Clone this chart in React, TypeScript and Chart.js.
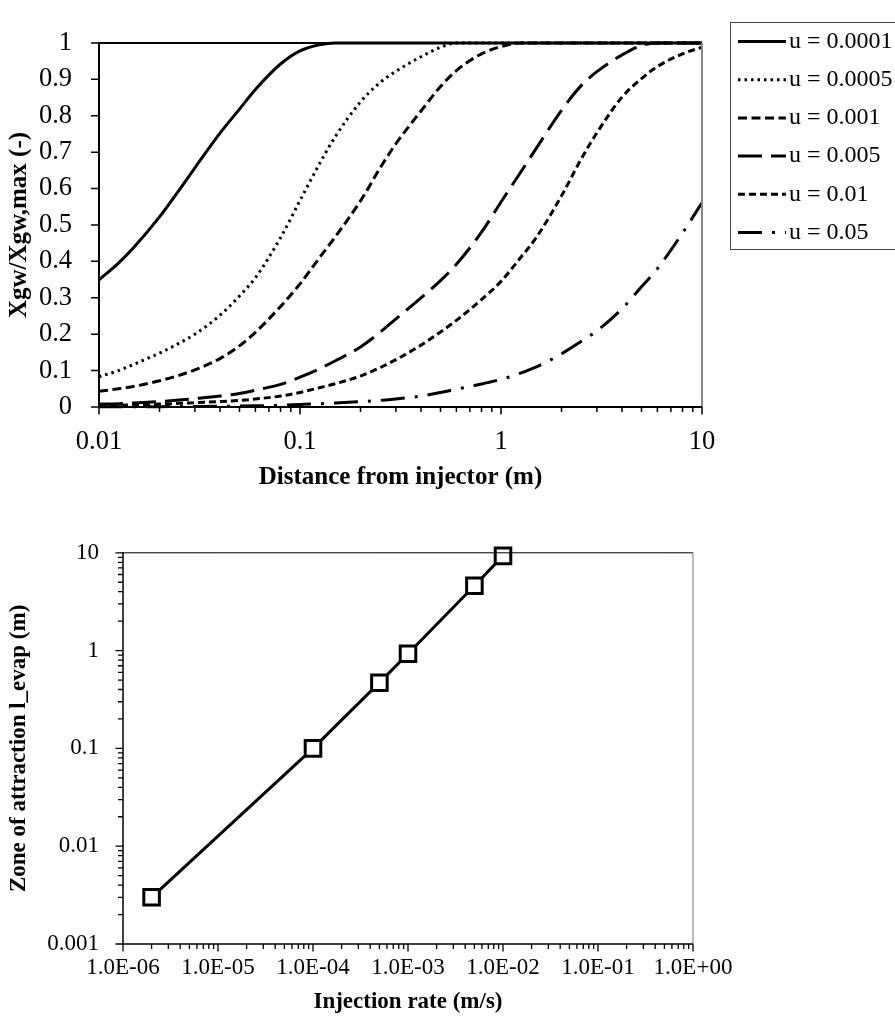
import React, { useEffect, useRef } from "react";
import { Chart, registerables } from "chart.js";

Chart.register(...registerables);

const FONT = "'Liberation Serif', 'Times New Roman', Times, serif";

// ---------- Top chart: Xgw/Xgw,max vs distance ----------
const distance = [
  0.01, 0.0125, 0.015, 0.02, 0.025, 0.03, 0.04, 0.05, 0.06, 0.08,
  0.1, 0.125, 0.15, 0.2, 0.25, 0.3, 0.4, 0.5, 0.6, 0.8,
  1, 1.25, 1.5, 2, 2.5, 3, 4, 5, 6, 8, 10,
];
const xgwU0001 = [
  0.349, 0.395, 0.44, 0.522, 0.595, 0.657, 0.752, 0.818, 0.872, 0.942,
  0.978, 0.995, 1, 1, 1, 1, 1, 1, 1, 1,
  1, 1, 1, 1, 1, 1, 1, 1, 1, 1, 1,
];
const xgwU0005 = [
  0.083, 0.1, 0.118, 0.148, 0.175, 0.2, 0.252, 0.305, 0.355, 0.465,
  0.567, 0.668, 0.743, 0.838, 0.891, 0.922, 0.962, 0.988, 1, 1,
  1, 1, 1, 1, 1, 1, 1, 1, 1, 1, 1,
];
const xgwU001 = [
  0.043, 0.05, 0.057, 0.072, 0.087, 0.102, 0.133, 0.168, 0.205, 0.276,
  0.338, 0.41, 0.468, 0.566, 0.656, 0.723, 0.813, 0.88, 0.924, 0.97,
  0.99, 1, 1, 1, 1, 1, 1, 1, 1, 1, 1,
];
const xgwU005 = [
  0.008, 0.009, 0.011, 0.015, 0.019, 0.023, 0.03, 0.037, 0.046, 0.062,
  0.082, 0.105, 0.127, 0.165, 0.205, 0.242, 0.3, 0.347, 0.392, 0.48,
  0.563, 0.644, 0.711, 0.815, 0.882, 0.921, 0.967, 0.993, 1, 1, 1,
];
const xgwU01 = [
  0.004, 0.005, 0.006, 0.008, 0.01, 0.012, 0.015, 0.018, 0.022, 0.03,
  0.04, 0.053, 0.064, 0.085, 0.108, 0.13, 0.17, 0.206, 0.238, 0.295,
  0.345, 0.41, 0.466, 0.58, 0.68, 0.753, 0.851, 0.902, 0.935, 0.97, 0.988,
];
const xgwU05 = [
  0.0005, 0.0006, 0.0007, 0.001, 0.0012, 0.0015, 0.002, 0.0026, 0.0032, 0.0045,
  0.007, 0.009, 0.011, 0.0145, 0.018, 0.022, 0.03, 0.04, 0.049, 0.063,
  0.076, 0.093, 0.11, 0.146, 0.18, 0.209, 0.27, 0.33, 0.38, 0.478, 0.561,
];
const seriesLabels = ["u = 0.0001", "u = 0.0005", "u = 0.001", "u = 0.005", "u = 0.01", "u = 0.05"];
const seriesValues = [xgwU0001, xgwU0005, xgwU001, xgwU005, xgwU01, xgwU05];
const seriesDashes = [[], [2.5, 4], [9, 4.5], [24, 9], [7, 4], [24, 10, 3, 10]];

const topXMajor = [0.01, 0.1, 1, 10];
const topXLabels = ["0.01", "0.1", "1", "10"];
const topYLabels = ["0", "0.1", "0.2", "0.3", "0.4", "0.5", "0.6", "0.7", "0.8", "0.9", "1"];

// ---------- Bottom chart: zone of attraction vs injection rate ----------
const injectionRate = [2e-6, 1e-4, 5e-4, 1e-3, 5e-3, 1e-2];
const zoneLength = [0.003, 0.1, 0.47, 0.93, 4.6, 9.3];
const botXMajor = [1e-6, 1e-5, 1e-4, 1e-3, 1e-2, 1e-1, 1];
const botXLabels = ["1.0E-06", "1.0E-05", "1.0E-04", "1.0E-03", "1.0E-02", "1.0E-01", "1.0E+00"];
const botYMajor = [0.001, 0.01, 0.1, 1, 10];
const botYLabels = ["0.001", "0.01", "0.1", "1", "10"];
const minorSteps = [2, 3, 4, 5, 6, 7, 8, 9];

function logTicks(majors: number[]) {
  const out: { value: number; major: boolean }[] = [];
  majors.forEach((m, i) => {
    out.push({ value: m, major: true });
    if (i < majors.length - 1) minorSteps.forEach((k) => out.push({ value: m * k, major: false }));
  });
  return out;
}

function labelFor(majors: number[], labels: string[]) {
  return (v: any) => {
    const val = Number(v);
    const i = majors.findIndex((m) => Math.abs(Math.log10(val) - Math.log10(m)) < 1e-6);
    return i >= 0 ? labels[i] : "";
  };
}

function framePlugin(o: any) {
  return {
    id: "frameTicks",
    afterDraw(chart: any) {
      const { ctx, chartArea: a } = chart;
      const xs = chart.scales.x;
      const ys = chart.scales.y;
      ctx.save();
      ctx.setLineDash([]);
      ctx.strokeStyle = "#000";
      ctx.lineWidth = o.tickWidth;
      ctx.beginPath();
      xs.ticks.forEach((t: any) => {
        const p = xs.getPixelForValue(t.value);
        const len = t.major === false ? o.xMinor : o.xMajor;
        ctx.moveTo(p, a.bottom);
        ctx.lineTo(p, a.bottom + len);
      });
      ys.ticks.forEach((t: any) => {
        const p = ys.getPixelForValue(t.value);
        const len = t.major === false ? o.yMinor : o.yMajor;
        ctx.moveTo(a.left, p);
        ctx.lineTo(a.left - len, p);
      });
      ctx.stroke();
      ctx.strokeStyle = o.topColor;
      ctx.lineWidth = o.topWidth;
      ctx.beginPath();
      ctx.moveTo(a.left, a.top);
      ctx.lineTo(a.right, a.top);
      ctx.stroke();
      ctx.strokeStyle = o.rightColor;
      ctx.lineWidth = o.rightWidth;
      ctx.beginPath();
      ctx.moveTo(a.right, a.top);
      ctx.lineTo(a.right, a.bottom);
      ctx.stroke();
      ctx.strokeStyle = "#000";
      ctx.lineWidth = o.axisWidth;
      ctx.beginPath();
      ctx.moveTo(a.left, a.top - o.topWidth / 2);
      ctx.lineTo(a.left, a.bottom);
      ctx.lineTo(a.right, a.bottom);
      ctx.stroke();
      ctx.restore();
    },
  };
}

const legendPlugin = {
  id: "boxLegend",
  afterDraw(chart: any) {
    const { ctx } = chart;
    ctx.save();
    ctx.strokeStyle = "#444";
    ctx.lineWidth = 1;
    ctx.strokeRect(730.5, 22.5, 200, 227);
    ctx.font = `24px ${FONT}`;
    ctx.textBaseline = "middle";
    ctx.textAlign = "left";
    chart.data.datasets.forEach((ds: any, i: number) => {
      const y = 41.5 + i * 38.2;
      ctx.strokeStyle = "#000";
      ctx.lineWidth = 3;
      ctx.lineCap = "butt";
      ctx.setLineDash(ds.borderDash || []);
      ctx.beginPath();
      ctx.moveTo(738, y);
      ctx.lineTo(786, y);
      ctx.stroke();
      ctx.setLineDash([]);
      ctx.fillStyle = "#000";
      ctx.fillText(ds.label, 789, y);
    });
    ctx.restore();
  },
};

export default function App() {
  const topRef = useRef<HTMLCanvasElement | null>(null);
  const botRef = useRef<HTMLCanvasElement | null>(null);

  useEffect(() => {
    const topCanvas = topRef.current;
    const botCanvas = botRef.current;
    if (!topCanvas || !botCanvas) return;

    const topChart = new Chart(topCanvas, {
      type: "line",
      data: {
        datasets: seriesLabels.map((label, i) => ({
          label,
          data: distance.map((x, j) => ({ x, y: seriesValues[i][j] })),
          borderColor: "#000",
          backgroundColor: "#000",
          borderWidth: 3,
          borderDash: seriesDashes[i],
          pointRadius: 0,
          fill: false,
          cubicInterpolationMode: "monotone",
          clip: false,
        })),
      },
      options: {
        animation: false,
        responsive: false,
        devicePixelRatio: 1,
        layout: { padding: { left: 0, top: 23, right: 193, bottom: 0 } },
        plugins: { legend: { display: false }, tooltip: { enabled: false } },
        scales: {
          x: {
            type: "logarithmic",
            min: 0.01,
            max: 10,
            afterBuildTicks: (s: any) => {
              s.ticks = logTicks(topXMajor);
            },
            afterFit: (s: any) => {
              s.height = 108;
            },
            grid: { display: false, drawTicks: false },
            border: { display: false },
            ticks: {
              autoSkip: false,
              maxRotation: 0,
              padding: 19,
              color: "#000",
              font: { family: FONT, size: 26.5 },
              callback: labelFor(topXMajor, topXLabels),
            },
            title: {
              display: true,
              text: "Distance from injector (m)",
              color: "#000",
              font: { family: FONT, size: 25, weight: "bold" },
              padding: { top: 0, bottom: 22.7 },
            },
          },
          y: {
            type: "linear",
            min: 0,
            max: 1,
            afterFit: (s: any) => {
              s.width = 99;
            },
            grid: { display: false, drawTicks: false },
            border: { display: false },
            ticks: {
              stepSize: 0.1,
              autoSkip: false,
              padding: 27,
              color: "#000",
              font: { family: FONT, size: 26.5 },
              callback: (_v: any, i: number) => topYLabels[i],
            },
            title: {
              display: true,
              text: "Xgw/Xgw,max (-)",
              color: "#000",
              font: { family: FONT, size: 25, weight: "bold" },
              padding: { top: 5, bottom: 0 },
            },
          },
        },
      },
      plugins: [
        framePlugin({
          tickWidth: 1.5,
          xMajor: 7.5,
          xMinor: 5,
          yMajor: 8,
          yMinor: 5,
          topColor: "#000",
          topWidth: 2,
          rightColor: "#888",
          rightWidth: 2,
          axisWidth: 2,
        }),
        legendPlugin,
      ],
    } as any);

    const botChart = new Chart(botCanvas, {
      type: "line",
      data: {
        datasets: [
          {
            label: "l_evap",
            data: injectionRate.map((x, i) => ({ x, y: zoneLength[i] })),
            borderColor: "#000",
            borderWidth: 3,
            pointStyle: "rect",
            pointRadius: 11,
            pointBackgroundColor: "#fff",
            pointBorderColor: "#000",
            pointBorderWidth: 3,
            tension: 0,
            fill: false,
            clip: false,
          },
        ],
      },
      options: {
        animation: false,
        responsive: false,
        devicePixelRatio: 1,
        layout: { padding: { left: 0, top: 22, right: 202, bottom: 0 } },
        plugins: { legend: { display: false }, tooltip: { enabled: false } },
        scales: {
          x: {
            type: "logarithmic",
            min: 1e-6,
            max: 1,
            afterBuildTicks: (s: any) => {
              s.ticks = logTicks(botXMajor);
            },
            afterFit: (s: any) => {
              s.height = 91;
            },
            grid: { display: false, drawTicks: false },
            border: { display: false },
            ticks: {
              autoSkip: false,
              maxRotation: 0,
              padding: 10,
              color: "#000",
              font: { family: FONT, size: 23 },
              callback: labelFor(botXMajor, botXLabels),
            },
            title: {
              display: true,
              text: "Injection rate (m/s)",
              color: "#000",
              font: { family: FONT, size: 23, weight: "bold" },
              padding: { top: 0, bottom: 19 },
            },
          },
          y: {
            type: "logarithmic",
            min: 0.001,
            max: 10,
            afterBuildTicks: (s: any) => {
              s.ticks = logTicks(botYMajor);
            },
            afterFit: (s: any) => {
              s.width = 123;
            },
            grid: { display: false, drawTicks: false },
            border: { display: false },
            ticks: {
              autoSkip: false,
              padding: 24,
              color: "#000",
              font: { family: FONT, size: 23 },
              callback: labelFor(botYMajor, botYLabels),
            },
            title: {
              display: true,
              text: "Zone of attraction l_evap (m)",
              color: "#000",
              font: { family: FONT, size: 23, weight: "bold" },
              padding: { top: 5.6, bottom: 0 },
            },
          },
        },
      },
      plugins: [
        framePlugin({
          tickWidth: 1.3,
          xMajor: 7.5,
          xMinor: 5,
          yMajor: 7.5,
          yMinor: 5,
          topColor: "#000",
          topWidth: 1,
          rightColor: "#777",
          rightWidth: 1,
          axisWidth: 1.5,
        }),
      ],
    } as any);

    return () => {
      topChart.destroy();
      botChart.destroy();
    };
  }, []);

  return (
    <div style={{ position: "absolute", left: 0, top: 0, width: 895, height: 1035, background: "#fff" }}>
      <canvas ref={topRef} width={895} height={515} style={{ position: "absolute", left: 0, top: 0 }} />
      <canvas ref={botRef} width={895} height={520} style={{ position: "absolute", left: 0, top: 515 }} />
    </div>
  );
}
